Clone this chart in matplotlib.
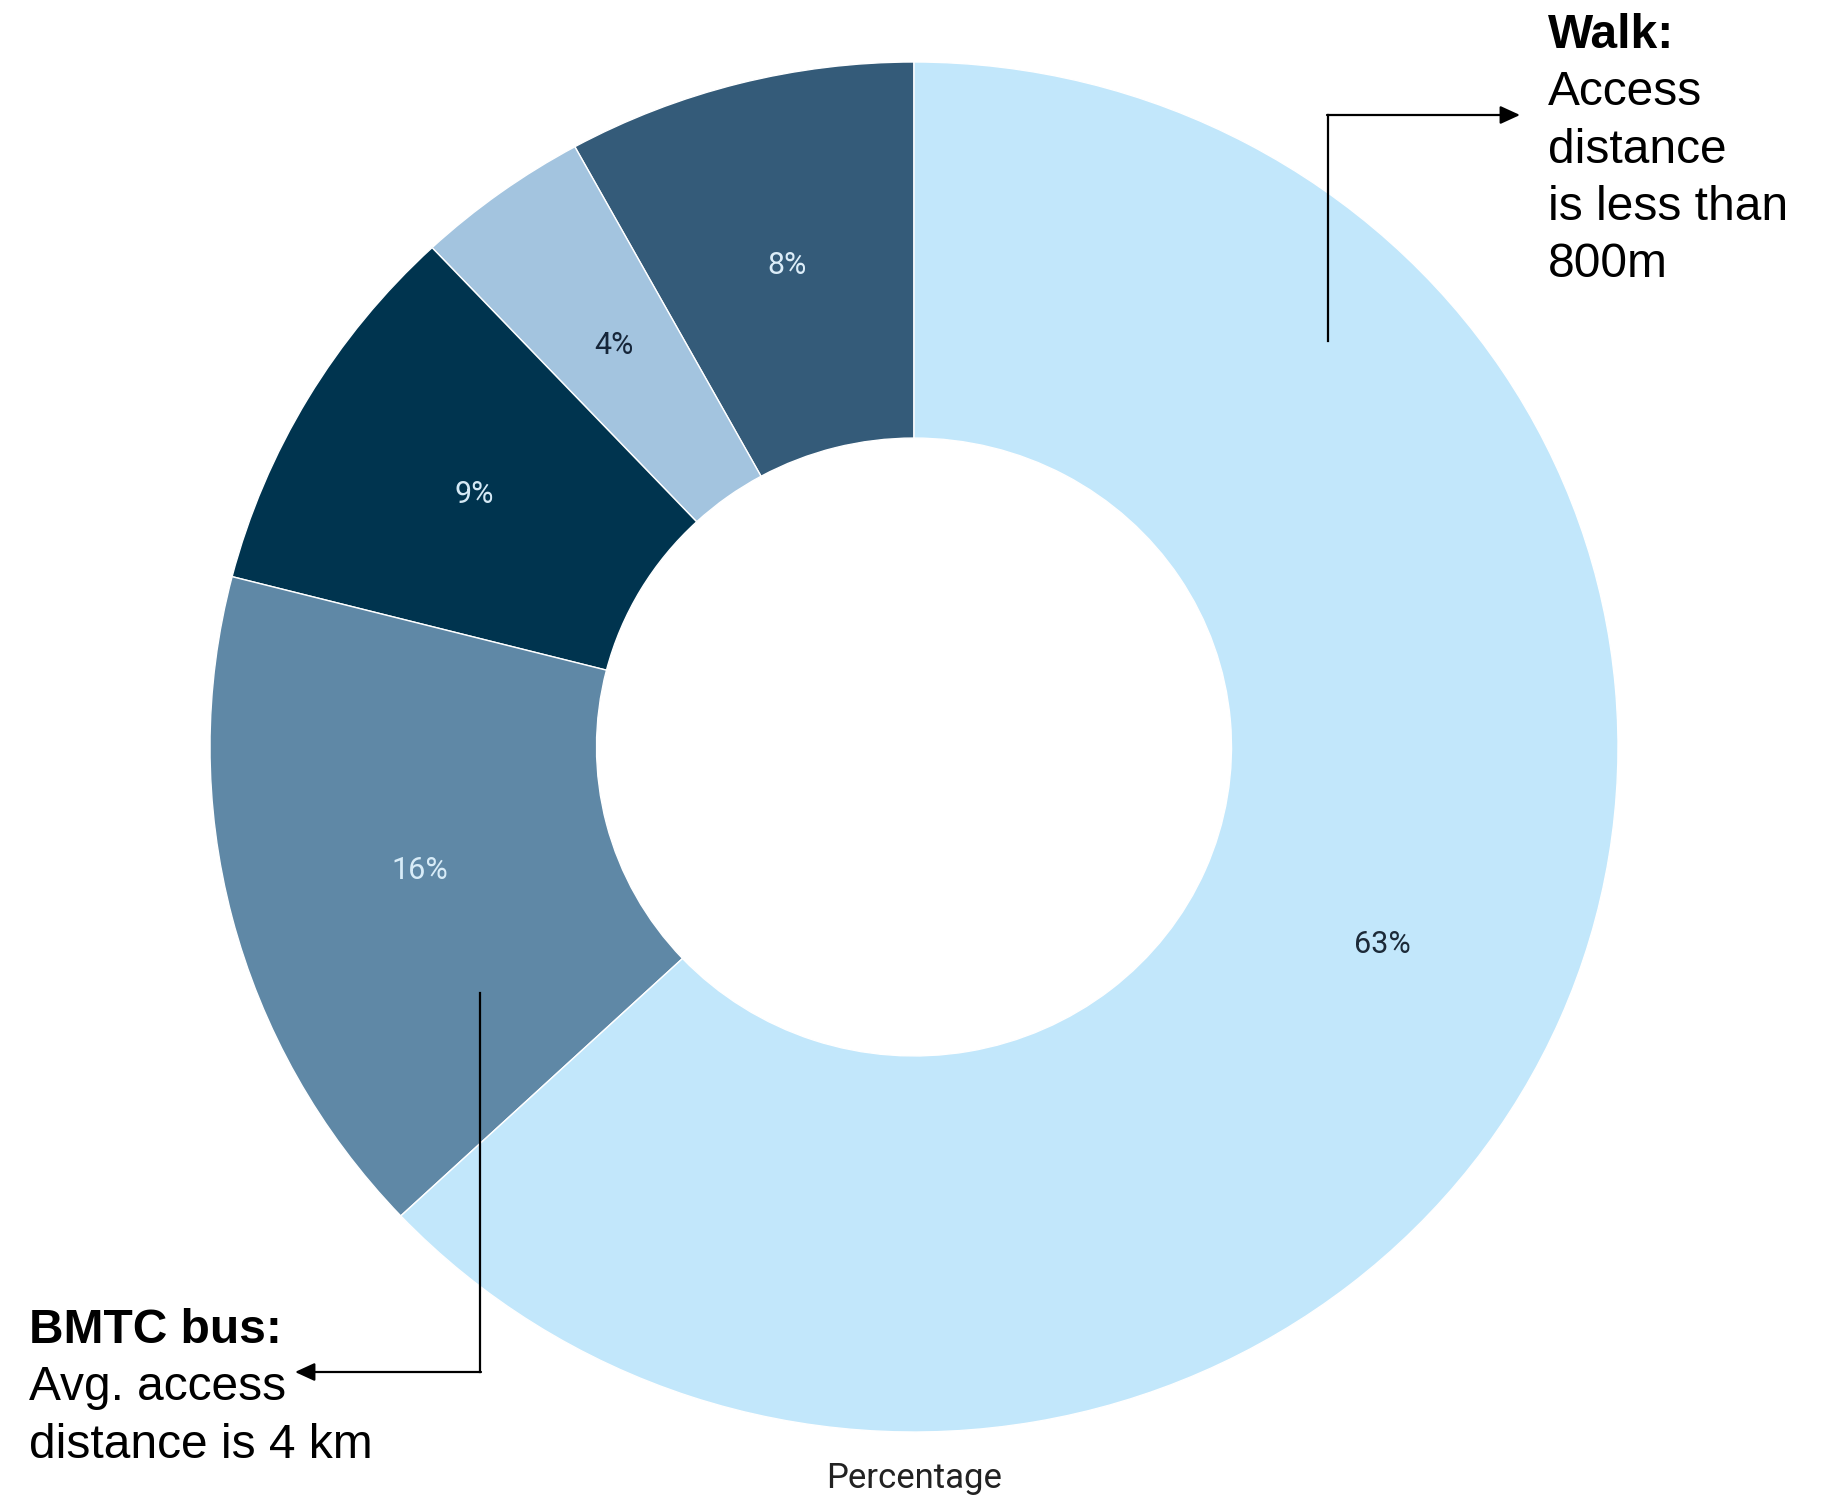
import matplotlib
matplotlib.use("Agg")
import matplotlib.pyplot as plt
from matplotlib.patches import FancyArrowPatch
from matplotlib.lines import Line2D

# Access mode shares (counter-clockwise from 12 o'clock)
modes = ["Other A", "Other B", "Other C", "BMTC bus", "Walk"]
shares = [8, 4, 9, 16, 63]
colors = ["#345b79", "#a3c4df", "#00344f", "#5f88a6", "#c2e7fb"]
label_colors = ["#dcedf8", "#16263a", "#d5e9f5", "#d8ecf8", "#1c2a38"]

W, H = 1826, 1495
fig = plt.figure(figsize=(W / 100, H / 100), dpi=100)

# Donut
ax = fig.add_axes([210 / W, 63 / H, 1408 / W, 1370 / H])
wedges, texts, autotexts = ax.pie(
    shares,
    colors=colors,
    startangle=90,
    counterclock=True,
    radius=1.0,
    autopct=lambda p: f"{p:.0f}%",
    pctdistance=0.725,
    wedgeprops=dict(width=0.549, edgecolor="white", linewidth=1.0),
    textprops=dict(fontfamily="Roboto", fontsize=22),
)
for t, c in zip(autotexts, label_colors):
    t.set_color(c)
ax.set_aspect("auto")
ax.set_xlim(-1, 1)
ax.set_ylim(-1, 1)
ax.axis("off")

# Overlay in pixel coordinates for callouts
ov = fig.add_axes([0, 0, 1, 1], zorder=5)
ov.set_xlim(0, W)
ov.set_ylim(H, 0)
ov.axis("off")
ov.patch.set_alpha(0)

ann_font = dict(fontfamily="Liberation Sans", fontsize=34.5, color="black")
pitch = 57.3

walk_lines = ["Walk:", "Access", "distance", "is less than", "800m"]
for i, line in enumerate(walk_lines):
    ov.text(1548, 48 + pitch * i, line, ha="left", va="baseline",
            fontweight="bold" if i == 0 else "normal", **ann_font)

bus_lines = ["BMTC bus:", "Avg. access", "distance is 4 km"]
for i, line in enumerate(bus_lines):
    ov.text(29, 1343 + pitch * i, line, ha="left", va="baseline",
            fontweight="bold" if i == 0 else "normal", **ann_font)

arrow_kw = dict(arrowstyle="-|>,head_length=1.2,head_width=0.55",
                mutation_scale=10, color="black", lw=1.6,
                shrinkA=0, shrinkB=0)

# Elbow arrow to the walk callout
ov.add_line(Line2D([1328, 1328], [341, 115], color="black", lw=1.6,
                   solid_capstyle="projecting"))
ov.add_patch(FancyArrowPatch((1327, 115), (1520, 115), **arrow_kw))

# Elbow arrow to the bus callout
ov.add_line(Line2D([480, 480], [993, 1372], color="black", lw=1.6,
                   solid_capstyle="projecting"))
ov.add_patch(FancyArrowPatch((481, 1372), (295, 1372), **arrow_kw))

ov.text(914, 1488, "Percentage", ha="center", va="baseline",
        fontfamily="Roboto", fontsize=25, color="#222222")

fig.savefig("out.png", dpi=100, facecolor="white")
